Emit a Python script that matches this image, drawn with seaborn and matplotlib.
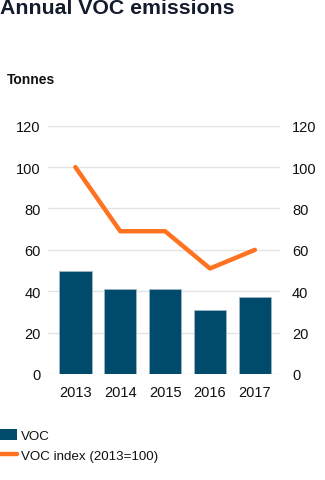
import numpy as np
import matplotlib
matplotlib.use("Agg")
import matplotlib.pyplot as plt
import seaborn as sns
from matplotlib.patches import Patch
from matplotlib.lines import Line2D

years = ["2013", "2014", "2015", "2016", "2017"]
voc = [50, 41, 41, 31, 37]
voc_index = [100, 69, 69, 51, 60]
yticks = [0, 20, 40, 60, 80, 100, 120]

sns.set_theme(style="white")
plt.rcParams['font.family'] = ['Liberation Sans', 'DejaVu Sans']

BAR = "#004a6b"
ORANGE = "#ff7320"
TXT = "#111111"

W, H = 325, 481
fig = plt.figure(figsize=(W / 100, H / 100), dpi=100)
ax = fig.add_axes([48 / W, 1 - 375 / H, 232 / W, (375 - 126.7) / H])

sns.barplot(x=years, y=voc, color=BAR, width=0.72, saturation=1, ax=ax,
            edgecolor="#9fb6c4", linewidth=0.6, zorder=3)
sns.lineplot(x=np.arange(len(years)), y=voc_index, color=ORANGE, linewidth=3.2,
             ax=ax, zorder=4, legend=False)
ax.lines[-1].set_clip_on(False)

ax.set_xlim(-0.61, 4.56)
ax.set_ylim(0, 120)
ax.set_yticks(yticks)
ax.set_yticklabels([str(v) for v in yticks])
ax.grid(axis="y", color="#e3e3e3", linewidth=1, zorder=0)
ax.set_axisbelow(True)
for s in ax.spines.values():
    s.set_visible(False)
ax.tick_params(axis="both", length=0, labelsize=10.5, colors=TXT)
ax.tick_params(axis="y", pad=5.3)
ax.tick_params(axis="x", pad=8)
ax.set_xlabel("")
ax.set_ylabel("")

ax2 = ax.twinx()
ax2.set_ylim(0, 120)
ax2.set_yticks(yticks)
ax2.set_yticklabels([str(v) for v in yticks])
ax2.tick_params(axis="y", length=0, labelsize=10.5, colors=TXT, pad=8.6)
for s in ax2.spines.values():
    s.set_visible(False)
ax2.grid(False)

fig.text(0, 1 - 9 / H, "Annual VOC emissions", fontsize=15.3, fontweight="bold",
         color="#141b2d", va="center", ha="left")
fig.text(7 / W, 1 - 80 / H, "Tonnes", fontsize=10, fontweight="bold",
         color=TXT, va="center", ha="left")

handles = [Patch(facecolor=BAR, edgecolor="none"),
           Line2D([0], [0], color=ORANGE, linewidth=3.2)]
fig.legend(handles, ["VOC", "VOC index (2013=100)"], loc="upper left",
           bbox_to_anchor=(-0.003, 1 - 430 / H), frameon=False, fontsize=9.6,
           handlelength=1.35, handleheight=0.85, handletextpad=0.3,
           borderpad=0, borderaxespad=0, labelspacing=0.55, labelcolor=TXT)

fig.savefig("out.png", dpi=100)
